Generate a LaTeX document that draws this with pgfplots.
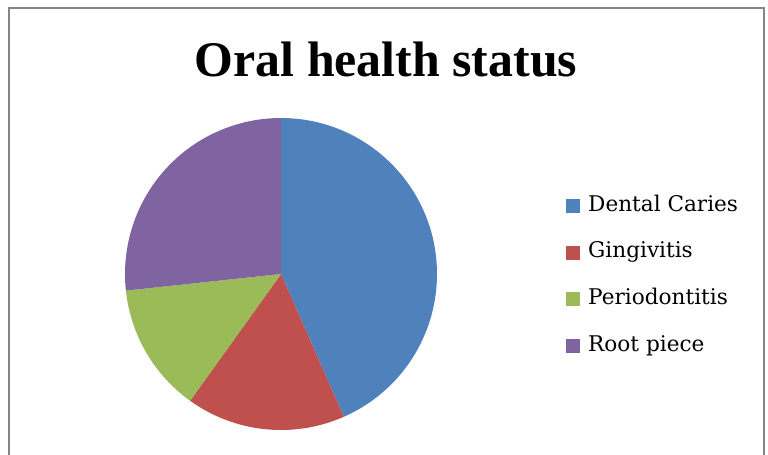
\documentclass[border=0pt]{standalone}
\usepackage{pgfplots}
\pgfplotsset{compat=1.18}
\usepackage{pgfplotstable}
\usepackage{fontspec}
\setmainfont{Liberation Serif}
\newfontfamily\legendfont{DejaVu Serif}

\definecolor{slice0}{HTML}{4F81BD}
\definecolor{slice1}{HTML}{C0504D}
\definecolor{slice2}{HTML}{9BBB59}
\definecolor{slice3}{HTML}{8064A2}
\definecolor{framegray}{HTML}{868686}

% share of each condition, in per cent
\pgfplotstableread{
label value
{Dental Caries} 43.4
Gingivitis 16.5
Periodontitis 13.4
{Root piece} 26.7
}\oraldata

\begin{document}
\begin{tikzpicture}[x=0.75pt,y=-0.75pt]
\useasboundingbox (0,0) rectangle (768,454);
\draw[framegray, line width=1.5pt] (9,470) -- (9,8.3) -- (764,8.3) -- (764,470);
\node[anchor=base, inner sep=0pt, font=\fontsize{37.4}{40}\selectfont\bfseries] at (386,76) {Oral health status};

% slice angles, clockwise from 12 o'clock
\def\cum{0}
\pgfplotsforeachungrouped \i in {0,...,3}{%
  \pgfplotstablegetelem{\i}{value}\of\oraldata
  \pgfmathsetmacro\angstart{90-3.6*\cum}%
  \pgfmathsetmacro\cum{\cum+\pgfplotsretval}%
  \pgfmathsetmacro\angend{90-3.6*\cum}%
  \expandafter\xdef\csname pieS\i\endcsname{\angstart}%
  \expandafter\xdef\csname pieE\i\endcsname{\angend}%
}

\begin{axis}[
  at={(210.75pt,-205.5pt)}, anchor=center,
  scale only axis, width=234pt, height=234pt,
  xmin=-1, xmax=1, ymin=-1, ymax=1,
  hide axis,
  legend cell align=left,
  legend image code/.code={\fill[#1] (0pt,-4.875pt) rectangle (9.75pt,4.875pt);},
  legend style={draw=none, fill=none, at={(1.4135,0.7532)}, anchor=north west,
    inner sep=0pt, outer sep=0pt, row sep=19pt,
    font=\legendfont\fontsize{16.2}{18}\selectfont,
    nodes={inner sep=0pt, text height=12pt, text depth=4pt},
    /tikz/every odd column/.append style={column sep=6.5pt}},
]
\pgfplotsforeachungrouped \i in {0,...,3}{%
  \edef\temp{\noexpand\fill[slice\i] (axis cs:0,0) -- ++(\csname pieS\i\endcsname:117pt)
    arc[start angle=\csname pieS\i\endcsname, end angle=\csname pieE\i\endcsname, radius=117pt] -- cycle;}%
  \temp
  \pgfplotstablegetelem{\i}{label}\of\oraldata
  \edef\temp{\noexpand\addlegendimage{slice\i}\noexpand\addlegendentry{\pgfplotsretval}}%
  \temp
}
\end{axis}
\end{tikzpicture}
\end{document}
